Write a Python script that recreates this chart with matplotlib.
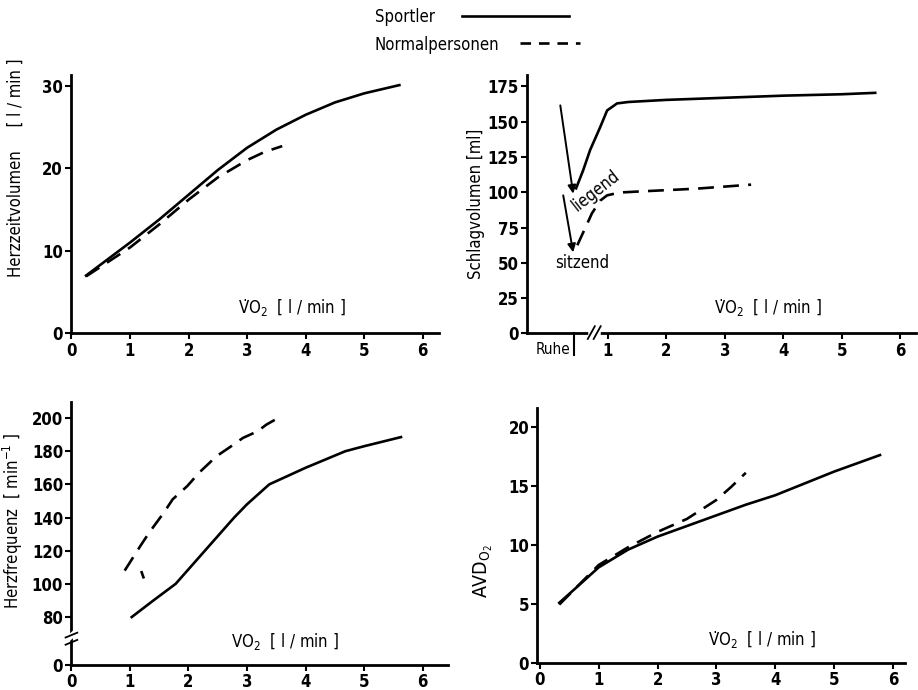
import matplotlib
matplotlib.use("Agg")
import matplotlib.pyplot as plt
import numpy as np
from matplotlib.lines import Line2D

plt.rcParams['font.family'] = ['DejaVu Sans']
plt.rcParams['font.stretch'] = 'condensed'
plt.rcParams['mathtext.fontset'] = 'dejavusans'
plt.rcParams['font.size'] = 11

# Herzzeitvolumen (l/min) vs VO2
hzv_sport_x = [0.25, 1.0, 1.5, 2.0, 2.5, 3.0, 3.5, 4.0, 4.5, 5.0, 5.6]
hzv_sport_y = [7.0, 11.0, 13.8, 16.8, 19.8, 22.5, 24.7, 26.5, 28.0, 29.1, 30.1]
hzv_norm_x = [0.25, 1.0, 1.5, 2.0, 2.5, 3.0, 3.3, 3.6]
hzv_norm_y = [6.9, 10.4, 13.2, 16.2, 18.9, 21.0, 22.0, 22.7]

# Schlagvolumen (ml) vs VO2
sv_sport_x = [0.46, 0.58, 0.70, 0.87, 0.99, 1.16, 1.35, 2.0, 3.0, 4.0, 5.0, 5.57]
sv_sport_y = [102.8, 115.5, 130, 146, 158, 163, 164, 165.5, 167, 168.5, 169.5, 170.5]
sv_norm_x = [0.48, 0.62, 0.73, 0.87, 0.99, 1.2, 1.56, 2.5, 3.45]
sv_norm_y = [62.4, 75, 85, 94, 97.8, 99.8, 100.6, 102.5, 105.4]
arrow_liegend = [(0.19, 161.6), (0.41, 99)]
arrow_sitzend = [(0.24, 97.8), (0.41, 57.4)]

# Herzfrequenz (1/min) vs VO2
hf_sport_x = [1.03, 1.4, 1.78, 2.28, 2.78, 3.0, 3.38, 4.0, 4.68, 5.0, 5.63]
hf_sport_y = [80, 90, 100, 120, 140, 148, 160, 170, 180, 183, 188.5]
hf_norm_x = [0.91, 1.18, 1.33, 1.58, 1.73, 1.98, 2.18, 2.48, 2.73, 2.93, 3.18, 3.33, 3.58]
hf_norm_y = [108, 123, 131, 143, 151, 159, 167, 177, 183, 188, 192, 196, 201]

# AVD O2 vs VO2
avd_sport_x = [0.33, 0.6, 1.0, 1.5, 2.0, 2.5, 3.0, 3.5, 4.0, 4.5, 5.0, 5.78]
avd_sport_y = [5.1, 6.3, 8.1, 9.6, 10.7, 11.6, 12.5, 13.4, 14.2, 15.2, 16.2, 17.6]
avd_norm_x = [0.33, 1.0, 1.5, 2.0, 2.5, 3.0, 3.25, 3.5]
avd_norm_y = [4.95, 8.3, 9.8, 11.1, 12.2, 13.8, 14.9, 16.1]

x_ticks = [0, 1, 2, 3, 4, 5, 6]
lw = 1.9
dash = (6, 3.5)


def style(ax):
    for s in ['top', 'right']:
        ax.spines[s].set_visible(False)
    for s in ['left', 'bottom']:
        ax.spines[s].set_linewidth(2.0)
    ax.tick_params(width=1.5, length=4, pad=2, labelsize=12)
    for t in ax.get_xticklabels() + ax.get_yticklabels():
        t.set_fontweight('bold')


def vo2_label(ax, x, y, dot=True):
    v = 'V\u0307O$_2$' if dot else 'VO$_2$'
    ax.text(x, y, v + '  [ l / min ]', transform=ax.transAxes,
            ha='center', va='bottom', fontsize=12)


fig = plt.figure(figsize=(9.18, 6.9), dpi=100)

# Legende oben
fig.text(0.408, 0.975, 'Sportler', ha='left', va='center', fontsize=12)
fig.text(0.408, 0.935, 'Normalpersonen', ha='left', va='center', fontsize=12)
fig.lines.append(Line2D([0.503, 0.62], [0.977, 0.977], transform=fig.transFigure,
                        color='black', lw=lw))
fig.lines.append(Line2D([0.566, 0.632], [0.937, 0.937], transform=fig.transFigure,
                        color='black', lw=lw, dashes=(4, 3)))

# Herzzeitvolumen
ax1 = fig.add_axes([0.0778, 0.517, 0.400, 0.374])
ax1.plot(hzv_sport_x, hzv_sport_y, color='black', lw=lw)
ax1.plot(hzv_norm_x, hzv_norm_y, color='black', lw=lw, dashes=dash)
ax1.set_xlim(0, 6.27)
ax1.set_ylim(0, 31.3)
ax1.set_xticks(x_ticks)
ax1.set_yticks([0, 10, 20, 30])
style(ax1)
ax1.set_ylabel('Herzzeitvolumen     [ l / min ]', fontsize=12)
ax1.yaxis.set_label_coords(-0.126, 0.64)
vo2_label(ax1, 0.6, 0.06)

# Schlagvolumen
ax2 = fig.add_axes([0.574, 0.517, 0.424, 0.374])
ax2.plot(sv_sport_x, sv_sport_y, color='black', lw=lw)
ax2.plot(sv_norm_x, sv_norm_y, color='black', lw=lw, dashes=dash)
for a in (arrow_liegend, arrow_sitzend):
    ax2.annotate('', xy=a[1], xytext=a[0],
                 arrowprops=dict(arrowstyle='-|>', color='black', lw=1.4,
                                 mutation_scale=12, shrinkA=0, shrinkB=0))
ax2.text(0.8, 101, 'liegend', rotation=38, ha='center', va='center', fontsize=12)
ax2.text(0.56, 49.6, 'sitzend', ha='center', va='center', fontsize=12)
ax2.set_xlim(-0.38, 6.27)
ax2.set_ylim(0, 183)
ax2.set_xticks(x_ticks[1:])
ax2.set_yticks(np.arange(0, 176, 25))
style(ax2)
ax2.axvline(0.42, ymin=-0.085, ymax=0, color='black', lw=1.5, clip_on=False)
ax2.text(0.37, -0.035, 'Ruhe', transform=ax2.get_xaxis_transform(),
         ha='right', va='top', fontsize=11)
# Achsenbruch
ax2.plot([0.72, 0.84], [0, 0], color='white', lw=4, clip_on=False, zorder=5)
for bx in (0.66, 0.76):
    ax2.plot([bx, bx + 0.12], [-4, 5], color='black', lw=1.3, clip_on=False, zorder=6)
ax2.set_ylabel('Schlagvolumen [ml]', fontsize=12)
ax2.yaxis.set_label_coords(-0.108, 0.5)
vo2_label(ax2, 0.62, 0.06)


# Herzfrequenz mit unterbrochener y-Achse
def hf_fwd(y):
    y = np.asarray(y, dtype=float)
    return np.where(y >= 80, y - 51, y * 29 / 80)


def hf_inv(d):
    d = np.asarray(d, dtype=float)
    return np.where(d >= 29, d + 51, d * 80 / 29)


ax3 = fig.add_axes([0.0778, 0.036, 0.410, 0.381])
ax3.set_yscale('function', functions=(hf_fwd, hf_inv))
ax3.plot(hf_sport_x, hf_sport_y, color='black', lw=lw)
ax3.plot(hf_norm_x, hf_norm_y, color='black', lw=lw, dashes=dash)
ax3.plot([1.2, 1.23], [107, 104], color='black', lw=lw)
ax3.set_xlim(0, 6.43)
ax3.set_ylim(0, 209.5)
ax3.set_xticks(x_ticks)
ax3.set_yticks([0, 80, 100, 120, 140, 160, 180, 200])
ax3.yaxis.set_minor_locator(matplotlib.ticker.NullLocator())
style(ax3)
ax3.plot([-0.12, 0.08], [38, 56], color='white', lw=4, clip_on=False, zorder=5)
for by in (40, 52):
    ax3.plot([-0.1, 0.1], [by - 6, by + 2], color='black', lw=1.3,
             clip_on=False, zorder=6)
ax3.set_ylabel('Herzfrequenz  [ min$^{-1}$ ]', fontsize=12)
ax3.yaxis.set_label_coords(-0.123, 0.55)
vo2_label(ax3, 0.567, 0.05, dot=False)

# AVD O2
ax4 = fig.add_axes([0.5855, 0.039, 0.400, 0.370])
ax4.plot(avd_sport_x, avd_sport_y, color='black', lw=lw)
ax4.plot(avd_norm_x, avd_norm_y, color='black', lw=lw, dashes=dash)
ax4.set_xlim(-0.04, 6.2)
ax4.set_ylim(0, 21.6)
ax4.set_xticks(x_ticks)
ax4.set_yticks([0, 5, 10, 15, 20])
style(ax4)
ax4.set_ylabel(r'AVD$_{\rm O_2}$', fontsize=14)
ax4.yaxis.set_label_coords(-0.116, 0.36)
vo2_label(ax4, 0.61, 0.05)

fig.savefig('out.png', dpi=100)
